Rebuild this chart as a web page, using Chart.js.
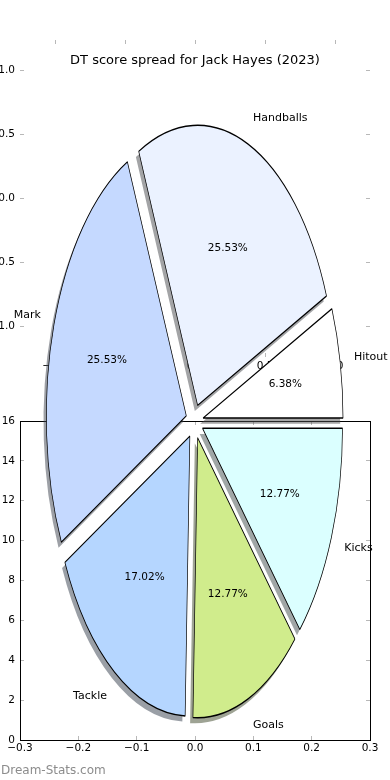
<!DOCTYPE html>
<html>
<head>
<meta charset="utf-8">
<script src="https://cdn.jsdelivr.net/npm/chart.js@4.4.1/dist/chart.umd.min.js"></script>
<style>
  body { margin: 0; background: #fff; overflow: hidden; }
  #wrap { position: relative; width: 390px; height: 780px; }
  canvas { position: absolute; left: 0; top: 0; }
  #title { position: absolute; left: 0; width: 390px; top: 52px; text-align: center;
           font: 13px "DejaVu Sans"; color: #000; }
  #mark { position: absolute; left: 1px; top: 763px; font: 12px "DejaVu Sans"; color: #8c8c8c; }
</style>
</head>
<body>
<div id="wrap">
  <canvas id="upper" width="390" height="780"></canvas>
  <canvas id="lower" width="390" height="780"></canvas>
  <canvas id="pie" width="390" height="780"></canvas>
  <div id="title">DT score spread for Jack Hayes (2023)</div>
  <div id="mark">Dream-Stats.com</div>
</div>
<script>
// DT points per stat, in the order the slices run anticlockwise from 3 o'clock
const categories = ['Hitout', 'Handballs', 'Mark', 'Tackle', 'Goals', 'Kicks'];
const dtPoints = [3, 12, 12, 8, 6, 6];
const sliceColors = ['#ffffff', '#ebf2ff', '#c5d9ff', '#b5d6ff', '#d0ec8c', '#dbffff'];

const upperXTicks = [-1, -0.5, 0, 0.5, 1];
const upperYTicks = [-1, -0.5, 0, 0.5, 1];
const lowerXTicks = [-0.3, -0.2, -0.1, 0, 0.1, 0.2, 0.3];
const lowerYTicks = [0, 2, 4, 6, 8, 10, 12, 14, 16];

const FONT = { family: 'DejaVu Sans', size: 10.5 };
const TICK_GREY = '#b8b8b8';
const minus = s => s.replace('-', '\u2212');

// chart.js draws clockwise, matplotlib anticlockwise -> reverse
const pieLabels = categories.slice().reverse();
const pieValues = dtPoints.slice().reverse();
const pieColors = sliceColors.slice().reverse();
const total = pieValues.reduce((a, b) => a + b, 0);

function shadowOf(hex) {
  const n = parseInt(hex.slice(1), 16);
  const r = (n >> 16) & 255, g = (n >> 8) & 255, b = n & 255;
  return `rgba(${0.3 * r},${0.3 * g},${0.3 * b},0.5)`;
}

function tickAxis(pos, min, max, vals, opts) {
  const horiz = pos === 'top' || pos === 'bottom';
  return {
    type: 'linear', position: pos, min, max,
    axis: horiz ? 'x' : 'y',
    afterBuildTicks: s => { s.ticks = vals.map(v => ({ value: v })); },
    afterFit: s => { if (horiz) s.height = opts.size; else s.width = opts.size; },
    ticks: {
      display: opts.labels, font: FONT, color: '#000', padding: opts.pad,
      maxRotation: 0, autoSkip: false,
      callback: opts.fmt
    },
    grid: { drawOnChartArea: false, tickLength: -4, color: TICK_GREY },
    border: { display: opts.border, color: '#000', width: 1 }
  };
}

// upper (frameless) axes
new Chart(document.getElementById('upper'), {
  type: 'scatter',
  data: { datasets: [] },
  options: {
    responsive: false, animation: false, events: [],
    layout: { padding: { left: 0, right: 20, top: 40, bottom: 403 } },
    plugins: { legend: { display: false }, tooltip: { enabled: false } },
    scales: {
      x: tickAxis('bottom', -1.25, 1.25, upperXTicks, { size: 20, labels: true, pad: 7, border: false, fmt: v => minus(v.toFixed(1)) }),
      x2: tickAxis('top', -1.25, 1.25, upperXTicks, { size: 0, labels: false, pad: 0, border: false }),
      y: tickAxis('left', -1.24, 1.235, upperYTicks, { size: 20, labels: true, pad: 9, border: false, fmt: v => minus(v.toFixed(1)) }),
      y2: tickAxis('right', -1.24, 1.235, upperYTicks, { size: 0, labels: false, pad: 0, border: false })
    }
  }
});

// lower framed axes
new Chart(document.getElementById('lower'), {
  type: 'scatter',
  data: { datasets: [] },
  options: {
    responsive: false, animation: false, events: [],
    layout: { padding: { left: 0, right: 20, top: 421, bottom: 20 } },
    plugins: { legend: { display: false }, tooltip: { enabled: false } },
    scales: {
      x: tickAxis('bottom', -0.3, 0.3, lowerXTicks, { size: 20, labels: true, pad: 6, border: true, fmt: v => minus(v.toFixed(1)) }),
      x2: tickAxis('top', -0.3, 0.3, lowerXTicks, { size: 0, labels: false, pad: 0, border: true }),
      y: tickAxis('left', 0, 16, lowerYTicks, { size: 20, labels: true, pad: 9, border: true, fmt: v => String(v) }),
      y2: tickAxis('right', 0, 16, lowerYTicks, { size: 0, labels: false, pad: 0, border: true })
    }
  }
});

// exploded, squashed pie with matplotlib-like shadows and labels
const EXPLODE = 0.062;
const SHADOW = 0.02;
const STRETCH = 2.0;

const mplPie = {
  id: 'mplPie',
  afterDatasetUpdate(chart) {
    chart.getDatasetMeta(0).data.forEach(a => {
      const mid = (a.startAngle + a.endAngle) / 2;
      a.x += Math.cos(mid) * EXPLODE * a.outerRadius;
      a.y += Math.sin(mid) * EXPLODE * a.outerRadius;
    });
  },
  beforeDatasetsDraw(chart) {
    const ctx = chart.ctx;
    const cy = (chart.chartArea.top + chart.chartArea.bottom) / 2;
    ctx.save();
    ctx.translate(0, cy);
    ctx.scale(1, STRETCH);
    ctx.translate(0, -cy);
    const arcs = chart.getDatasetMeta(0).data;
    ctx.save();
    const r = arcs[0].outerRadius;
    ctx.translate(-SHADOW * r, SHADOW * r);
    arcs.forEach((a, i) => {
      const s = Object.create(a);
      s.options = Object.assign({}, a.options, { backgroundColor: shadowOf(pieColors[i]), borderWidth: 0 });
      a.draw.call(s, ctx);
    });
    ctx.restore();
  },
  afterDatasetsDraw(chart) {
    const ctx = chart.ctx;
    ctx.restore();
    const cy = (chart.chartArea.top + chart.chartArea.bottom) / 2;
    const toY = v => cy + (v - cy) * STRETCH;
    ctx.save();
    ctx.fillStyle = '#000';
    ctx.textBaseline = 'middle';
    chart.getDatasetMeta(0).data.forEach((a, i) => {
      const mid = (a.startAngle + a.endAngle) / 2;
      const R = a.outerRadius;
      const pct = (pieValues[i] / total * 100).toFixed(2) + '%';
      ctx.font = '10.5px "DejaVu Sans"';
      ctx.textAlign = 'center';
      ctx.fillText(pct, a.x + 0.6 * R * Math.cos(mid), toY(a.y + 0.6 * R * Math.sin(mid)));
      ctx.font = '11px "DejaVu Sans"';
      ctx.textAlign = Math.cos(mid) > 0 ? 'left' : 'right';
      ctx.fillText(pieLabels[i], a.x + 1.1 * R * Math.cos(mid), toY(a.y + 1.1 * R * Math.sin(mid)));
    });
    ctx.restore();
  }
};

new Chart(document.getElementById('pie'), {
  type: 'pie',
  data: {
    labels: pieLabels,
    datasets: [{
      data: pieValues,
      backgroundColor: pieColors,
      borderColor: '#000',
      borderWidth: 0.7,
      rotation: 90,
      radius: 140,
      clip: false
    }]
  },
  options: {
    responsive: false, animation: false, events: [],
    rotation: 90, radius: 140,
    layout: { padding: { top: 63, right: 1, left: 0, bottom: 0 } },
    plugins: { legend: { display: false }, tooltip: { enabled: false } }
  },
  plugins: [mplPie]
});
</script>
</body>
</html>
